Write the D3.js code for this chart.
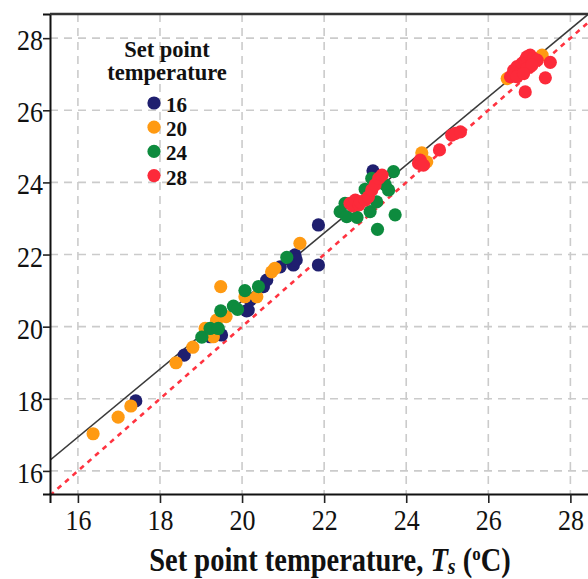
<!DOCTYPE html>
<html>
<head>
<meta charset="utf-8">
<script src="https://cdn.jsdelivr.net/npm/d3@7"></script>
<style>
  body { margin: 0; background: #fff; }
  svg { display: block; font-family: "Liberation Serif", "DejaVu Serif", serif; }
</style>
</head>
<body>
<svg id="chart" width="588" height="579"></svg>
<script>
// set point series, in legend order
const setPoints = ['16', '20', '24', '28'];
const seriesColors = ['#1f1f6f', '#ff9a12', '#0d8b3e', '#fc2a3a'];

const pts16 = [
    [17.41, 17.94], [18.59, 19.21], [19.22, 19.72], [19.50, 19.77], [20.11, 20.44],
    [20.15, 20.46], [20.20, 20.74], [20.52, 21.11], [20.60, 21.29], [20.93, 21.66],
    [21.25, 21.71], [21.29, 21.99], [21.32, 21.85], [21.86, 21.71], [21.86, 22.82],
    [23.19, 24.32]
];
const pts20 = [
    [16.37, 17.03], [16.98, 17.49], [17.29, 17.80], [18.39, 19.00], [18.80, 19.43],
    [19.10, 19.95], [19.30, 19.72], [19.38, 20.18], [19.48, 21.11], [19.61, 20.28],
    [20.07, 20.83], [20.36, 20.83], [20.72, 21.52], [20.80, 21.62], [21.41, 22.31],
    [24.38, 24.82], [24.50, 24.57], [26.46, 26.88], [27.31, 27.53]
];
const pts24 = [
    [19.02, 19.71], [19.22, 19.95], [19.42, 19.95], [19.48, 20.44], [19.79, 20.57],
    [19.89, 20.48], [20.07, 21.00], [20.40, 21.11], [21.09, 21.92], [22.39, 23.19],
    [22.55, 23.05], [22.80, 23.03], [22.51, 23.42], [23.00, 23.81], [23.12, 23.19],
    [23.28, 23.46], [23.49, 23.93], [23.57, 23.79], [23.69, 24.30], [23.73, 23.10],
    [23.30, 22.70], [23.16, 24.11]
];
const pts28 = [
    [22.63, 23.42], [22.70, 23.35], [22.76, 23.51], [22.85, 23.38], [22.88, 23.46],
    [23.00, 23.51], [23.08, 23.60], [23.16, 23.79], [23.24, 23.93], [23.33, 24.11],
    [23.41, 24.20], [24.30, 24.53], [24.34, 24.62], [24.42, 24.48], [24.81, 24.90],
    [25.11, 25.31], [25.20, 25.36], [25.32, 25.40], [26.54, 26.93], [26.62, 27.11],
    [26.70, 27.21], [26.78, 27.07], [26.82, 27.30], [26.90, 27.39], [26.94, 27.48],
    [27.02, 27.53], [27.10, 27.44], [27.19, 27.39], [26.94, 27.16], [27.06, 27.25],
    [26.70, 26.93], [26.86, 27.02], [27.51, 27.33], [27.39, 26.90], [26.90, 26.51]
];
const allSeries = [pts16, pts20, pts24, pts28];

const tickValues = [16, 18, 20, 22, 24, 26, 28];
// fitted line: measured = slope * Ts + intercept
const fitSlope = 0.943;
const fitIntercept = 1.85;

const svg = d3.select('#chart');
const plotLeft = 50, plotTop = 14, plotBottom = 494, plotRight = 595;
const stretch = 1.15; // the source text is drawn a bit taller than wide

const x = d3.scaleLinear().domain([15.32, 28.6]).range([plotLeft, plotRight]);
const y = d3.scaleLinear().domain([15.36, 28.67]).range([plotBottom, plotTop]);

svg.append('clipPath').attr('id', 'plot-clip')
    .append('rect')
    .attr('x', plotLeft).attr('y', plotTop)
    .attr('width', plotRight - plotLeft).attr('height', plotBottom - plotTop);

// grid
const grid = svg.append('g')
    .attr('stroke', '#cbcbcb')
    .attr('stroke-width', 1.6)
    .attr('stroke-dasharray', '8,6');
grid.selectAll('.gx').data(tickValues).enter().append('line')
    .attr('x1', d => x(d)).attr('x2', d => x(d))
    .attr('y1', plotTop).attr('y2', plotBottom);
grid.selectAll('.gy').data(tickValues).enter().append('line')
    .attr('x1', plotLeft).attr('x2', plotRight)
    .attr('y1', d => y(d)).attr('y2', d => y(d));

const plot = svg.append('g').attr('clip-path', 'url(#plot-clip)');

// 1:1 line
const [x0, x1] = x.domain();
plot.append('line')
    .attr('x1', x(x0)).attr('y1', y(x0))
    .attr('x2', x(x1)).attr('y2', y(x1))
    .attr('stroke', '#ff3340')
    .attr('stroke-width', 2.6)
    .attr('stroke-dasharray', '5,5');

// fit line
plot.append('line')
    .attr('x1', x(x0)).attr('y1', y(fitSlope * x0 + fitIntercept))
    .attr('x2', x(x1)).attr('y2', y(fitSlope * x1 + fitIntercept))
    .attr('stroke', '#3a3a3a')
    .attr('stroke-width', 1.6);

// points
allSeries.forEach((pts, i) => {
    plot.append('g').selectAll('circle')
        .data(pts)
        .enter().append('circle')
        .attr('cx', d => x(d[0]))
        .attr('cy', d => y(d[1]))
        .attr('r', 6.6)
        .attr('fill', seriesColors[i]);
});

// axes
const xAxis = svg.append('g')
    .attr('transform', `translate(0,${plotBottom})`)
    .call(d3.axisBottom(x).tickValues(tickValues).tickSize(9).tickFormat(d3.format('d')));
const yAxis = svg.append('g')
    .attr('transform', `translate(${plotLeft},0)`)
    .call(d3.axisLeft(y).tickValues(tickValues).tickSize(7).tickFormat(d3.format('d')));
[xAxis, yAxis].forEach(a => {
    a.select('.domain').attr('stroke', '#111').attr('stroke-width', 2);
    a.selectAll('.tick line').attr('stroke', '#222').attr('stroke-width', 1.6);
    a.selectAll('.tick text')
        .attr('font-family', '"Liberation Serif", serif')
        .attr('font-size', 26)
        .attr('fill', '#111')
        .attr('x', null).attr('y', null).attr('dy', null);
});
xAxis.selectAll('.tick text').attr('transform', `translate(0,36) scale(1,${stretch})`);
yAxis.selectAll('.tick text').attr('transform', `translate(-7,11.5) scale(1,${stretch})`);

// top frame
svg.append('line')
    .attr('x1', plotLeft).attr('x2', 588)
    .attr('y1', plotTop).attr('y2', plotTop)
    .attr('stroke', '#333').attr('stroke-width', 2.5);

// legend
const legend = svg.append('g').attr('font-weight', 'bold').attr('fill', '#111');
legend.append('text').attr('x', 167).attr('y', 57).attr('text-anchor', 'middle')
    .attr('font-size', 22.5).text('Set point');
legend.append('text').attr('x', 167).attr('y', 80).attr('text-anchor', 'middle')
    .attr('font-size', 22.5).text('temperature');
const items = legend.selectAll('.item')
    .data(setPoints)
    .enter().append('g')
    .attr('transform', (d, i) => `translate(154,${103 + i * 24.2})`);
items.append('circle').attr('r', 6.6).attr('fill', (d, i) => seriesColors[i]);
items.append('text').attr('x', 12).attr('y', 9).attr('font-size', 21).text(d => d);

// x title
const title = svg.append('text')
    .attr('transform', `translate(330,571) scale(1,${stretch})`)
    .attr('text-anchor', 'middle')
    .attr('font-size', 28.5)
    .attr('font-weight', 'bold')
    .attr('fill', '#111');
title.append('tspan').text('Set point temperature, ');
title.append('tspan').attr('font-style', 'italic').text('T');
title.append('tspan').attr('font-style', 'italic').attr('font-size', 20).attr('dy', 3).text('s');
title.append('tspan').attr('dy', -3).text(' (');
title.append('tspan').attr('font-size', 17).attr('dy', -10).text('o');
title.append('tspan').attr('dy', 10).text('C)');
</script>
</body>
</html>
